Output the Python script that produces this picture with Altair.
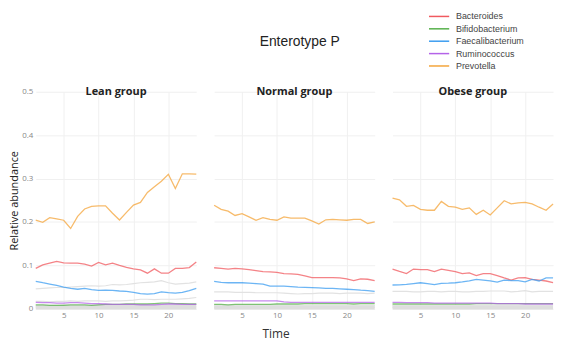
import altair as alt
import pandas as pd

time = list(range(1, 25))
groups = ["Lean group", "Normal group", "Obese group"]
taxa = ["Bacteroides", "Bifidobacterium", "Faecalibacterium", "Ruminococcus", "Prevotella"]
colors = ["#F05A5F", "#56B04A", "#3B9CF0", "#B463E8", "#F4A43A"]

# ---- Lean group ----
lean_bacteroides = [0.093, 0.101, 0.105, 0.109, 0.106, 0.105, 0.105, 0.103, 0.0985, 0.107, 0.101, 0.105,
                    0.100, 0.0955, 0.092, 0.0896, 0.082, 0.092, 0.082, 0.082, 0.093, 0.093, 0.095, 0.108]
lean_bifido = [0.009, 0.009, 0.008, 0.008, 0.008, 0.009, 0.009, 0.009, 0.008, 0.009, 0.010, 0.010,
               0.010, 0.011, 0.011, 0.011, 0.011, 0.012, 0.013, 0.013, 0.012, 0.012, 0.011, 0.011]
lean_faecali = [0.0634, 0.060, 0.057, 0.054, 0.050, 0.047, 0.045, 0.047, 0.044, 0.0425, 0.043, 0.0425,
                0.041, 0.040, 0.038, 0.035, 0.0336, 0.035, 0.0388, 0.037, 0.036, 0.038, 0.042, 0.047]
lean_rumino = [0.015, 0.014, 0.014, 0.013, 0.013, 0.014, 0.014, 0.013, 0.012, 0.012, 0.011, 0.010,
               0.010, 0.010, 0.010, 0.009, 0.009, 0.009, 0.010, 0.011, 0.011, 0.010, 0.010, 0.010]
lean_prevotella = [0.204, 0.199, 0.210, 0.207, 0.204, 0.185, 0.213, 0.230, 0.236, 0.237, 0.237, 0.220,
                   0.2045, 0.222, 0.239, 0.245, 0.268, 0.281, 0.294, 0.310, 0.277, 0.311, 0.311, 0.310]
lean_other1 = [0.046, 0.047, 0.048, 0.049, 0.049, 0.050, 0.051, 0.052, 0.053, 0.052, 0.053, 0.056,
               0.055, 0.056, 0.058, 0.060, 0.061, 0.062, 0.065, 0.060, 0.057, 0.058, 0.059, 0.062]
lean_other2 = [0.017, 0.017, 0.016, 0.017, 0.017, 0.018, 0.017, 0.018, 0.018, 0.018, 0.017, 0.018,
               0.018, 0.019, 0.020, 0.022, 0.022, 0.021, 0.022, 0.022, 0.022, 0.023, 0.024, 0.026]
lean_other3 = [0.006, 0.006, 0.006, 0.006, 0.007, 0.006, 0.006, 0.006, 0.006, 0.007, 0.007, 0.006,
               0.006, 0.007, 0.007, 0.007, 0.007, 0.007, 0.007, 0.007, 0.007, 0.007, 0.007, 0.007]
lean_other4 = [0.002] * 24

# ---- Normal group ----
normal_bacteroides = [0.0945, 0.093, 0.0915, 0.093, 0.092, 0.090, 0.088, 0.0855, 0.085, 0.084, 0.081, 0.0805,
                      0.0795, 0.076, 0.072, 0.072, 0.072, 0.072, 0.071, 0.069, 0.065, 0.069, 0.068, 0.065]
normal_bifido = [0.010, 0.010, 0.009, 0.010, 0.010, 0.010, 0.010, 0.010, 0.010, 0.011, 0.011, 0.011,
                 0.011, 0.012, 0.012, 0.012, 0.012, 0.012, 0.012, 0.012, 0.011, 0.012, 0.012, 0.012]
normal_faecali = [0.063, 0.061, 0.060, 0.060, 0.060, 0.059, 0.058, 0.057, 0.052, 0.052, 0.052, 0.051,
                  0.050, 0.0495, 0.0488, 0.048, 0.047, 0.047, 0.046, 0.045, 0.044, 0.0428, 0.042, 0.040]
normal_rumino = [0.018, 0.018, 0.018, 0.018, 0.018, 0.018, 0.018, 0.018, 0.018, 0.018, 0.016, 0.015,
                 0.015, 0.015, 0.015, 0.015, 0.015, 0.015, 0.015, 0.015, 0.015, 0.015, 0.015, 0.015]
normal_prevotella = [0.2386, 0.229, 0.225, 0.215, 0.219, 0.2116, 0.204, 0.210, 0.206, 0.204, 0.2116, 0.209,
                     0.209, 0.209, 0.2025, 0.195, 0.205, 0.206, 0.205, 0.204, 0.206, 0.206, 0.1966, 0.200]
normal_other1 = [0.039, 0.039, 0.039, 0.038, 0.038, 0.038, 0.037, 0.037, 0.037, 0.037, 0.036, 0.035,
                 0.034, 0.035, 0.035, 0.036, 0.036, 0.036, 0.035, 0.036, 0.036, 0.036, 0.035, 0.036]
normal_other2 = [0.008] * 24
normal_other3 = [0.005] * 24
normal_other4 = [0.002] * 24

# ---- Obese group ----
obese_bacteroides = [0.0915, 0.086, 0.081, 0.0915, 0.090, 0.090, 0.0855, 0.0915, 0.0885, 0.0855, 0.081, 0.0825,
                     0.0765, 0.081, 0.081, 0.0765, 0.071, 0.066, 0.071, 0.072, 0.0675, 0.066, 0.064, 0.060]
obese_bifido = [0.011, 0.011, 0.011, 0.011, 0.011, 0.011, 0.011, 0.011, 0.011, 0.011, 0.011, 0.011,
                0.012, 0.012, 0.012, 0.012, 0.012, 0.012, 0.012, 0.012, 0.012, 0.012, 0.012, 0.012]
obese_faecali = [0.0548, 0.055, 0.056, 0.058, 0.060, 0.058, 0.0555, 0.0585, 0.059, 0.060, 0.062, 0.0645,
                 0.0675, 0.066, 0.0645, 0.0615, 0.066, 0.065, 0.065, 0.062, 0.0675, 0.064, 0.071, 0.071]
obese_rumino = [0.015, 0.015, 0.014, 0.014, 0.014, 0.014, 0.013, 0.013, 0.013, 0.013, 0.013, 0.013,
                0.013, 0.013, 0.013, 0.012, 0.012, 0.012, 0.012, 0.011, 0.011, 0.011, 0.011, 0.011]
obese_prevotella = [0.255, 0.251, 0.236, 0.238, 0.229, 0.227, 0.227, 0.2475, 0.236, 0.234, 0.229, 0.2325,
                    0.2175, 0.227, 0.216, 0.2325, 0.249, 0.2415, 0.244, 0.245, 0.2415, 0.234, 0.227, 0.2415]
obese_other1 = [0.040, 0.040, 0.040, 0.039, 0.039, 0.040, 0.040, 0.039, 0.040, 0.040, 0.039, 0.039,
                0.040, 0.040, 0.041, 0.041, 0.041, 0.039, 0.040, 0.042, 0.039, 0.040, 0.040, 0.040]
obese_other2 = [0.008] * 24
obese_other3 = [0.005] * 24
obese_other4 = [0.002] * 24

series = {
    "Lean group": ([lean_bacteroides, lean_bifido, lean_faecali, lean_rumino, lean_prevotella],
                   [lean_other1, lean_other2, lean_other3, lean_other4]),
    "Normal group": ([normal_bacteroides, normal_bifido, normal_faecali, normal_rumino, normal_prevotella],
                     [normal_other1, normal_other2, normal_other3, normal_other4]),
    "Obese group": ([obese_bacteroides, obese_bifido, obese_faecali, obese_rumino, obese_prevotella],
                    [obese_other1, obese_other2, obese_other3, obese_other4]),
}

FONT = "Open Sans"
W, H = 162, 219


def panel(group, first, middle):
    main, others = series[group]
    rows = []
    for name, vals in zip(taxa, main):
        for t, v in zip(time, vals):
            rows.append({"Time": t, "taxon": name, "value": v})
    df_main = pd.DataFrame(rows)
    rows_thin, rows_band = [], []
    for i, vals in enumerate(others):
        for t, v in zip(time, vals):
            (rows_thin if i < 2 else rows_band).append({"Time": t, "taxon": f"other{i}", "value": v})
    df_thin = pd.DataFrame(rows_thin)
    df_band = pd.DataFrame(rows_band)

    x_axis = alt.Axis(values=[5, 10, 15, 20], grid=True, gridColor="#f0f0f0", domain=False, ticks=False,
                      labelFontSize=8, labelColor="#888888", labelFont=FONT, labelPadding=3,
                      title="Time" if middle else None, titleFont=FONT, titleFontSize=12,
                      titleFontWeight="normal", titleColor="#333333", titleX=62, titleY=20,
                      titleBaseline="top")
    if first:
        y_axis = alt.Axis(values=[0, 0.1, 0.2, 0.3, 0.4, 0.5], grid=True, gridColor="#f0f0f0", domain=False,
                          ticks=False, labelFontSize=8, labelColor="#888888", labelFont=FONT,
                          labelPadding=3,
                          labelExpr="datum.value == 0 ? '0' : format(datum.value, '.1f')",
                          title="Relative abundance", titleFont=FONT, titleFontSize=11,
                          titleFontWeight="normal", titleColor="#222222", titlePadding=2)
    else:
        y_axis = alt.Axis(values=[0, 0.1, 0.2, 0.3, 0.4, 0.5], grid=True, gridColor="#f0f0f0", domain=False,
                          ticks=False, labels=False, title=None, minExtent=0, maxExtent=0)

    x = alt.X("Time:Q", scale=alt.Scale(domain=[1, 24], nice=False, zero=False), axis=x_axis)
    y = alt.Y("value:Q", scale=alt.Scale(domain=[0, 0.5], nice=False), axis=y_axis)

    band = alt.Chart(df_band).mark_line(color="#dedede", strokeWidth=3).encode(
        x=x, y=y, detail="taxon:N"
    )
    thin = alt.Chart(df_thin).mark_line(color="#e2e2e2", strokeWidth=1.2).encode(
        x=x, y=y, detail="taxon:N"
    )
    colored = alt.Chart(df_main).mark_line(strokeWidth=1.3, opacity=0.75).encode(
        x=x, y=y,
        color=alt.Color("taxon:N", scale=alt.Scale(domain=taxa, range=colors),
                        sort=taxa,
                        legend=alt.Legend(title=None, orient="none", legendX=400, legendY=-83,
                                          symbolType="M-1.7,0H1.7", symbolStrokeWidth=1.5, symbolSize=144,
                                          symbolOpacity=1, symbolFillColor="transparent",
                                          labelFont="Liberation Sans", labelFontSize=9,
                                          labelColor="#444444", rowPadding=0.5, labelOffset=10, padding=0)),
    )
    return alt.layer(band, thin, colored).properties(
        width=W, height=H,
        title=alt.TitleParams(group, offset=-9 if first else -5, fontSize=11, fontWeight="bold",
                              font=FONT, color="#222222"),
    )


chart = alt.hconcat(
    panel("Lean group", True, False),
    panel("Normal group", False, True),
    panel("Obese group", False, False),
    spacing=6,
).properties(
    title=alt.TitleParams("Enterotype P", font="Liberation Sans", fontSize=14, fontWeight="normal",
                          color="#222222", anchor="middle", offset=-40, dx=16),
    padding=0,
).configure_view(stroke=None)

chart.save("out.html", embed_options={"renderer": "svg", "actions": False})
